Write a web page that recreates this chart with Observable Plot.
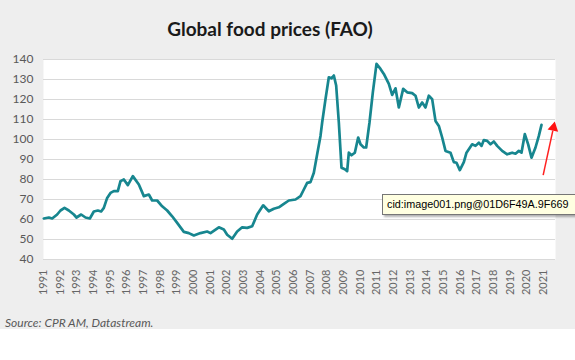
<!DOCTYPE html>
<html><head><meta charset="utf-8">
<script src="https://cdn.jsdelivr.net/npm/d3@7"></script>
<script src="https://cdn.jsdelivr.net/npm/@observablehq/plot@0.6"></script>
<style>
html,body{margin:0;padding:0;background:#fff;}
#wrap{position:relative;width:575px;height:360px;overflow:hidden;background:#fff;}
#bg{position:absolute;left:0;top:0;width:575px;height:329px;background:#eeeeee;}
#title{position:absolute;top:17px;left:270px;transform:translateX(-50%);font-family:Lato,sans-serif;font-weight:bold;font-size:19px;color:#1a1a1a;white-space:nowrap;}
#chart{position:absolute;left:0;top:50px;}
#caption{position:absolute;left:5px;top:315px;font-family:Lato,sans-serif;font-style:italic;font-size:12px;color:#595959;white-space:nowrap;}
#tip{position:absolute;left:382px;top:194px;height:21px;width:193px;box-sizing:border-box;background:#ffffe1;border:1px solid #767676;border-right:none;box-shadow:2px 2px 2px rgba(0,0,0,0.3);font-family:"Liberation Sans",sans-serif;font-size:10.8px;line-height:19px;padding-left:4px;color:#000;white-space:nowrap;}
</style></head>
<body>
<div id="wrap">
  <div id="bg"></div>
  <div id="title">Global food prices (FAO)</div>
  <div id="chart"></div>
  <div id="caption">Source: CPR AM, Datastream.</div>
  <div id="tip">cid:image001.png@01D6F49A.9F669</div>
</div>
<script>
// Time (decimal years) and FAO food price index values
const dates = [
  1991.02,1991.32,1991.52,1991.82,1992.02,1992.26,1992.52,1992.82,1992.98,1993.26,
  1993.52,1993.78,1994.02,1994.26,1994.46,1994.62,1994.82,1995.02,1995.22,1995.46,
  1995.62,1995.82,1996.06,1996.36,1996.72,1997.02,1997.32,1997.52,1997.82,1998.12,
  1998.42,1998.72,1999.02,1999.42,1999.72,2000.02,2000.42,2000.82,2001.02,2001.52,
  2001.82,2002.02,2002.32,2002.62,2002.92,2003.22,2003.52,2003.82,2004.18,2004.52,
  2004.82,2005.12,2005.42,2005.72,2006.12,2006.42,2006.62,2006.82,2007.02,2007.22,
  2007.42,2007.62,2007.72,2007.92,2008.12,2008.28,2008.42,2008.56,2008.72,2008.88,
  2009.08,2009.22,2009.32,2009.48,2009.68,2009.88,2010.02,2010.22,2010.36,2010.56,
  2010.76,2010.98,2011.22,2011.42,2011.72,2011.92,2012.12,2012.32,2012.58,2012.82,
  2013.12,2013.32,2013.52,2013.72,2013.92,2014.12,2014.32,2014.52,2014.72,2014.92,
  2015.12,2015.42,2015.62,2015.78,2015.98,2016.22,2016.38,2016.72,2016.92,2017.12,
  2017.28,2017.42,2017.62,2017.82,2018.02,2018.22,2018.52,2018.82,2019.12,2019.32,
  2019.52,2019.68,2019.88,2020.08,2020.28,2020.52,2020.72,2020.88
];
const foodIndex = [
  60.5,61,60.5,62.5,64.5,65.8,64.5,62.5,61,62.5,
  61,60.5,64,64.5,64,65.8,70.8,73.3,74.2,74.2,
  79.2,80,77.2,81.7,77.5,71.7,72.5,69.5,69.5,66.6,
  64.5,61.6,58.3,53.8,53.2,52,53.2,54,53.2,56.1,
  55,52.4,50.4,54,56.1,55.8,56.6,62.5,67.1,64.1,
  65.4,66.1,67.8,69.5,70,71.7,75,78.3,78.7,83.4,
  92.6,101.8,108.5,120.2,131.1,130.6,132,127,108.5,85.9,
  85.1,84.2,93.4,92.1,93.4,101,97.6,96,96,108.5,
  123.6,137.8,135.3,132.8,127.8,122.3,125.6,116,125.3,123.6,
  123.2,121.9,116,118.5,116,121.9,120.2,109.3,106.8,101,
  94.3,93.4,88.7,88.4,84.7,88.7,93.4,97.6,96.8,98.4,
  96.8,99.7,99.3,97.6,99,96.8,94.3,92.6,93.4,92.9,
  94.3,93.4,102.7,97.6,90.9,96,101.8,107.3
];
const yearTicks = [1991,1992,1993,1994,1995,1996,1997,1998,1999,2000,2001,2002,2003,2004,2005,2006,2007,2008,2009,2010,2011,2012,2013,2014,2015,2016,2017,2018,2019,2020,2021];
const valueTicks = [40,50,60,70,80,90,100,110,120,130,140];
// red annotation arrow (tail, end of shaft) and head position, in data units
const arrowX = [2020.98, 2021.56];
const arrowY = [82.2, 104.4];
const arrowHead = {x: 2021.6, y: 105.9, angle: 12};

const data = dates.map((t, i) => ({t, v: foodIndex[i]}));

const chart = Plot.plot({
  width: 575,
  height: 253,
  marginLeft: 43,
  marginRight: 20,
  marginTop: 9,
  marginBottom: 44,
  style: {background: "transparent", fontFamily: "Lato, sans-serif"},
  x: {type: "linear", domain: [1991, 2021.72]},
  y: {domain: [40, 140]},
  marks: [
    Plot.frame({fill: "white", stroke: "none"}),
    Plot.gridY(valueTicks, {stroke: "#d9d9d9", strokeOpacity: 1, strokeWidth: 1}),
    Plot.axisY({ticks: valueTicks, tickSize: 0, tickPadding: 10, fontSize: 12, color: "#595959", label: null}),
    Plot.axisX({ticks: yearTicks, tickFormat: d => String(d), tickRotate: -90, tickSize: 0, tickPadding: 10, fontSize: 11, color: "#666666", label: null}),
    Plot.line(data, {x: "t", y: "v", stroke: "#17868f", strokeWidth: 2.7, strokeLinejoin: "round"}),
    Plot.link([{x1: arrowX[0], y1: arrowY[0], x2: arrowX[1], y2: arrowY[1]}],
      {x1: "x1", y1: "y1", x2: "x2", y2: "y2", stroke: "#ff2020", strokeWidth: 1.5, clip: false}),
    Plot.dot([arrowHead], {x: "x", y: "y", symbol: "triangle", r: 4, fill: "#ff1010", stroke: "none", rotate: "angle", clip: false})
  ]
});
document.getElementById("chart").appendChild(chart);
</script>
</body></html>
